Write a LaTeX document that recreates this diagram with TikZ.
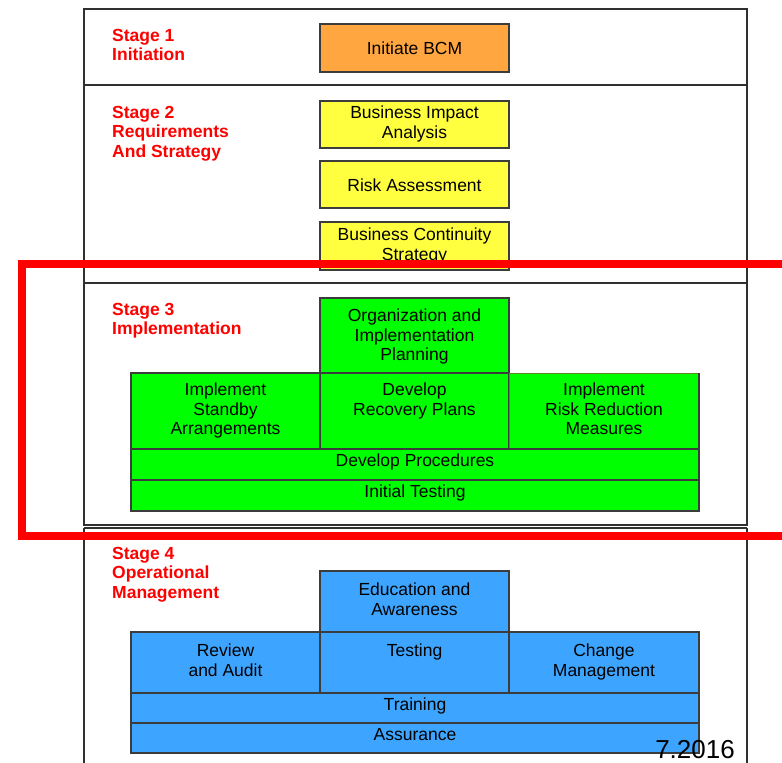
\documentclass[tikz,border=0pt]{standalone}
\usepackage{fontspec}
\newfontfamily\arialfont{Liberation Sans}
\definecolor{framegray}{HTML}{303030}
\definecolor{boxgray}{HTML}{3C3C3C}
\definecolor{stagered}{HTML}{FF0000}
\definecolor{bcmorange}{HTML}{FFA640}
\definecolor{reqyellow}{HTML}{FFFF40}
\definecolor{implgreen}{HTML}{00FF00}
\definecolor{opblue}{HTML}{3DA5FF}
\definecolor{softline}{HTML}{5C8A1E}
\begin{document}
\begin{tikzpicture}[x=1pt,y=-1pt,
  stagebox/.style={draw=framegray, line width=1.6pt},
  blk/.style={draw=boxgray, line width=1.5pt, anchor=north west, inner sep=0pt, outer sep=0pt},
  txt/.style={font=\arialfont\fontsize{17.5pt}{19.5pt}\selectfont, align=center, anchor=north, inner sep=0pt},
  stagelbl/.style={font=\arialfont\bfseries\fontsize{17.5pt}{19.5pt}\selectfont, text=stagered, align=left, anchor=north west, inner sep=0pt},
  highlight/.style={draw=stagered, line width=8pt}]
\useasboundingbox (0,0) rectangle (782,763);

% stage frames
\draw[stagebox] (84,9) rectangle (747,85);
\draw[stagebox] (84,85) rectangle (747,283);
\draw[stagebox] (84,283) rectangle (747,525);
\draw[stagebox] (84,528) -- (84,775);
\draw[stagebox] (747,528) -- (747,775);
\draw[stagebox] (84,528) -- (747,528);

% stage labels
\node[stagelbl] (s1) at (112,29) {Stage 1\\Initiation};
\node[stagelbl] (s2) at (112,106) {Stage 2\\Requirements\\And Strategy};
\node[stagelbl] (s3) at (112,303) {Stage 3\\Implementation};
\node[stagelbl] (s4) at (112,547) {Stage 4\\Operational\\Management};

% stage 1
\node[blk, fill=bcmorange, minimum width=189pt, minimum height=48pt] (initbcm) at (320,24) {};
\node[txt] (initbcmT) at (414.5,42) {Initiate BCM};

% stage 2
\node[blk, fill=reqyellow, minimum width=189pt, minimum height=47pt] (bia) at (320,101) {};
\node[txt] (biaT) at (414.5,106) {Business Impact\\Analysis};
\node[blk, fill=reqyellow, minimum width=189pt, minimum height=47pt] (risk) at (320,161) {};
\node[txt] (riskT) at (414.5,179) {Risk Assessment};
\node[blk, fill=reqyellow, minimum width=189pt, minimum height=48pt] (bcs) at (320,222) {};
\node[txt] (bcsT) at (414.5,228) {Business Continuity\\Strategy};

% stage 3
\node[blk, fill=implgreen, minimum width=189pt, minimum height=75pt] (org) at (320,298) {};
\node[txt] (orgT) at (414.5,309) {Organization and\\Implementation\\Planning};
\node[blk, fill=implgreen, minimum width=189pt, minimum height=76pt] (standby) at (131,373) {};
\node[txt] (standbyT) at (225.5,383) {Implement\\Standby\\Arrangements};
\node[blk, fill=implgreen, minimum width=189pt, minimum height=76pt] (recovery) at (320,373) {};
\node[txt] (recoveryT) at (414.5,383) {Develop\\Recovery Plans};
\node[blk, draw=softline, line width=0.8pt, fill=implgreen, minimum width=190pt, minimum height=76pt] (riskred) at (509,373) {};
\node[txt] (riskredT) at (604,383) {Implement\\Risk Reduction\\Measures};
\draw[boxgray, line width=1.5pt] (riskred.north east) -- (riskred.south east);
\node[blk, fill=implgreen, minimum width=568pt, minimum height=31pt] (procs) at (131,449) {};
\node[txt] (procsT) at (415,454) {Develop Procedures};
\node[blk, fill=implgreen, minimum width=568pt, minimum height=31pt] (inittest) at (131,480) {};
\node[txt] (inittestT) at (415,485) {Initial Testing};

% stage 4
\node[blk, fill=opblue, minimum width=189pt, minimum height=61pt] (edu) at (320,571) {};
\node[txt] (eduT) at (414.5,583) {Education and\\Awareness};
\node[blk, fill=opblue, minimum width=189pt, minimum height=61pt] (review) at (131,632) {};
\node[txt] (reviewT) at (225.5,644) {Review\\and Audit};
\node[blk, fill=opblue, minimum width=189pt, minimum height=61pt] (testing) at (320,632) {};
\node[txt] (testingT) at (414.5,644) {Testing};
\node[blk, fill=opblue, minimum width=190pt, minimum height=61pt] (change) at (509,632) {};
\node[txt] (changeT) at (604,644) {Change\\Management};
\node[blk, fill=opblue, minimum width=568pt, minimum height=30pt] (training) at (131,693) {};
\node[txt] (trainingT) at (415,698) {Training};
\node[blk, fill=opblue, minimum width=568pt, minimum height=30pt] (assurance) at (131,723) {};
\node[txt] (assuranceT) at (415,728) {Assurance};

% date stamp
\node[font=\arialfont\fontsize{26pt}{30pt}\selectfont, anchor=base east, inner sep=0pt] (date) at (735,758.5) {7.2016};

% highlight around stage 3
\begin{scope}
  \clip (0,0) rectangle (782,763);
  \draw[highlight] (21.5,264) rectangle (820,536);
\end{scope}
\end{tikzpicture}
\end{document}
